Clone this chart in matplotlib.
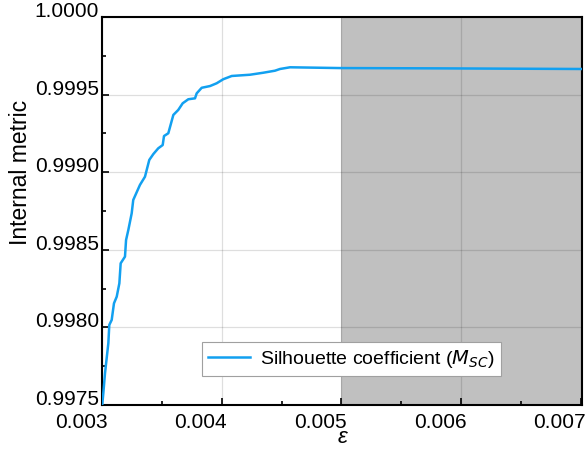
import matplotlib
matplotlib.use("Agg")
import matplotlib.pyplot as plt
from matplotlib.ticker import MultipleLocator, FormatStrFormatter
from matplotlib.transforms import ScaledTranslation

plt.rcParams['font.family'] = ['Liberation Sans', 'DejaVu Sans']

# epsilon sweep and silhouette score
eps = [0.0030025, 0.003011, 0.003025, 0.003053, 0.003061, 0.003081, 0.003100,
       0.003123, 0.003145, 0.003156, 0.003192, 0.003201, 0.003220, 0.003248,
       0.003261, 0.003317, 0.003359, 0.003395, 0.003429, 0.003470, 0.003507,
       0.003518, 0.003554, 0.003596, 0.003637, 0.003674, 0.003721, 0.003777,
       0.003791, 0.003833, 0.003902, 0.003958, 0.004013, 0.004084, 0.004236,
       0.004348, 0.004445, 0.004487, 0.004571, 0.004988, 0.005824, 0.007010]
msc = [0.997506, 0.997576, 0.997704, 0.997898, 0.998016, 0.998048, 0.998155,
       0.998198, 0.998284, 0.998413, 0.998456, 0.998563, 0.998628, 0.998735,
       0.998821, 0.998918, 0.998971, 0.999079, 0.999117, 0.999154, 0.999175,
       0.999233, 0.999251, 0.999369, 0.999401, 0.999444, 0.999470, 0.999476,
       0.999508, 0.999544, 0.999555, 0.999573, 0.999599, 0.999620, 0.999628,
       0.999641, 0.999654, 0.999665, 0.999676, 0.999671, 0.999669, 0.999665]

shade_start = 0.005
x_min, x_max = 0.003, 0.00701
y_min, y_max = 0.9975, 1.0

fig = plt.figure(figsize=(5.87, 4.5), dpi=100)
ax = fig.add_axes([102/587, 45/450, 480/587, 388/450])

ax.axvspan(shade_start, x_max, color='#c0c0c0', lw=0, zorder=0)
ax.plot(eps, msc, color='#12a0f0', lw=1.8, label='Silhouette coefficient ($M_{SC}$)', zorder=3)

ax.set_xlim(x_min, x_max)
ax.set_ylim(y_min, y_max)
ax.xaxis.set_major_locator(MultipleLocator(0.001))
ax.xaxis.set_minor_locator(MultipleLocator(0.0005))
ax.yaxis.set_major_locator(MultipleLocator(0.0005))
ax.yaxis.set_minor_locator(MultipleLocator(0.00025))
ax.xaxis.set_major_formatter(FormatStrFormatter('%.3f'))
ax.yaxis.set_major_formatter(FormatStrFormatter('%.4f'))
ax.tick_params(which='both', direction='in', labelsize=15, width=1.2)
ax.tick_params(which='major', length=5)
ax.tick_params(which='minor', length=3)
ax.tick_params(axis='x', pad=6)
ax.tick_params(axis='y', pad=2)
ax.grid(True, which='major', color='k', alpha=0.13, lw=0.9, zorder=1)
ax.set_axisbelow(True)
for s in ax.spines.values():
    s.set_linewidth(1.5)

# x labels sit left of their ticks, y labels sit on their ticks
fig.canvas.draw()
shift = ScaledTranslation(-21/100, 0, fig.dpi_scale_trans)
for lbl in ax.get_xticklabels():
    lbl.set_transform(lbl.get_transform() + shift)
for lbl in ax.get_yticklabels():
    lbl.set_verticalalignment('baseline')

ax.set_xlabel('ε', fontsize=16, fontstyle='italic', labelpad=-4)
ax.set_ylabel('Internal metric', fontsize=16.5)
ax.yaxis.set_label_coords(-0.145, 0.6)

leg = ax.legend(loc='lower left', bbox_to_anchor=(0.208, 0.075), fontsize=14,
                fancybox=False, framealpha=1, edgecolor='#a0a0a0',
                handlelength=2.2, handletextpad=0.5, borderpad=0.3,
                borderaxespad=0)
leg.get_frame().set_linewidth(0.8)

fig.savefig('out.png', dpi=100)
